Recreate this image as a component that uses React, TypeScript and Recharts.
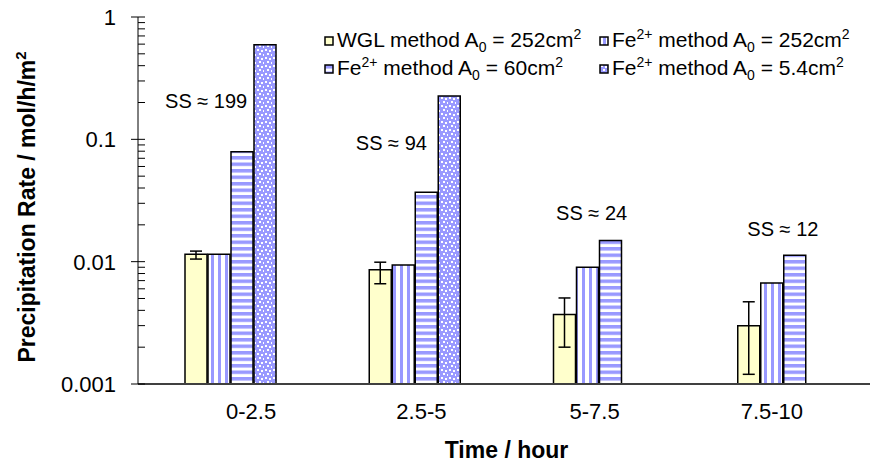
import React from "react";
import { BarChart, Bar, XAxis, YAxis, ErrorBar, ReferenceDot } from "recharts";

// time windows (hours)
const periods = ["0-2.5", "2.5-5", "5-7.5", "7.5-10"];

// precipitation rates, mol/h/m2
const wgl252 = [0.0115, 0.0086, 0.0037, 0.003];
const wglErrLow = [0.001, 0.002, 0.0017, 0.0018];
const wglErrHigh = [0.0007, 0.0013, 0.00135, 0.0017];
const fe252 = [0.0115, 0.0094, 0.009, 0.0067];
const fe60 = [0.079, 0.037, 0.0149, 0.0113];
const fe54 = [0.594, 0.226, null, null];

// supersaturation notes
const ssLabels = ["SS ≈ 199", "SS ≈ 94", "SS ≈ 24", "SS ≈ 12"];
const ssLevels = [0.206, 0.0933, 0.025, 0.0185];
const ssShift = [-24, -23, -7, 0];

const yTicks = [0.001, 0.01, 0.1, 1];
const yTickLabels = ["0.001", "0.01", "0.1", "1"];
const xLabelShift = [21, 7, -4, -11];

const FONT = "'Liberation Sans', Arial, sans-serif";
const BLUE = "#9999ff";

const minorTicks: number[] = [];
for (let d = 0; d < 3; d++) {
  for (let m = 2; m <= 9; m++) minorTicks.push(yTicks[d] * m);
}
const allTicks = [...yTicks, ...minorTicks];

const data = periods.map((p, i) => ({
  period: p,
  wgl: wgl252[i],
  wglErr: [wglErrLow[i], wglErrHigh[i]],
  fe252: fe252[i],
  fe60: fe60[i],
  fe54: fe54[i],
}));

const YTick = (props: any) => {
  const { x, y, payload } = props;
  const idx = yTicks.findIndex((t) => Math.abs(t - payload.value) < t * 1e-6);
  const major = idx >= 0;
  return (
    <g>
      <line x1={major ? x - 7 : x} x2={x + 7} y1={y} y2={y} stroke="#000" strokeWidth={1} />
      {major && (
        <text x={x - 22} y={y} dy={8} textAnchor="end" fontSize={22} fontFamily={FONT} fill="#000">
          {yTickLabels[idx]}
        </text>
      )}
    </g>
  );
};

const XTick = (props: any) => {
  const { x, y, payload, index } = props;
  return (
    <text x={x + (xLabelShift[index] || 0)} y={y + 35} textAnchor="middle" fontSize={22} fontFamily={FONT} fill="#000">
      {payload.value}
    </text>
  );
};

const LegendEntry = ({ x, y, fill, lead, area }: any) => (
  <g>
    <rect x={x - 12} y={y - 10} width={8} height={8} fill={fill} stroke="#000" strokeWidth={1.5} />
    <text x={x} y={y} fontSize={21} fontFamily={FONT} fill="#000">
      {lead === "WGL" ? (
        "WGL "
      ) : (
        <>
          Fe<tspan dy={-8} fontSize={14}>2+</tspan>
          <tspan dy={8}> </tspan>
        </>
      )}
      method A<tspan dy={5} fontSize={14}>0</tspan>
      <tspan dy={-5}> = {area}cm</tspan>
      <tspan dy={-8} fontSize={14}>2</tspan>
    </text>
  </g>
);

export default function App() {
  return (
    <div style={{ position: "absolute", left: 0, top: 0, width: 870, height: 468, overflow: "hidden", fontFamily: FONT }}>
      <BarChart
        width={870}
        height={468}
        data={data}
        margin={{ top: 17, right: -5, bottom: 0, left: 0 }}
        barSize={22}
        barGap={1}
      >
        <defs>
          <pattern id="vstripe" width="7" height="7" patternUnits="userSpaceOnUse">
            <rect width="7" height="7" fill="#fff" />
            <rect x="1" width="3" height="7" fill={BLUE} />
          </pattern>
          <pattern id="hstripe" width="6.5" height="6.5" patternUnits="userSpaceOnUse">
            <rect width="6.5" height="6.5" fill="#fff" />
            <rect width="6.5" height="3.5" fill={BLUE} />
          </pattern>
          <pattern id="dots" width="8" height="8" patternUnits="userSpaceOnUse">
            <rect width="8" height="8" fill={BLUE} />
            <rect x="1" y="1" width="2" height="2" fill="#fff" />
            <rect x="5" y="2" width="2" height="2" fill="#fff" />
            <rect x="3" y="5" width="2" height="2" fill="#fff" />
            <rect x="7" y="6" width="1.5" height="2" fill="#fff" />
          </pattern>
        </defs>
        <XAxis
          dataKey="period"
          height={84}
          tickLine={false}
          tickSize={0}
          tickMargin={0}
          tick={<XTick />}
          axisLine={{ stroke: "#404040", strokeWidth: 2 }}
          label={{
            content: (p: any) => (
              <text
                x={p.viewBox.x + p.viewBox.width / 2}
                y={p.viewBox.y + 74}
                textAnchor="middle"
                fontSize={23}
                fontWeight="bold"
                fontFamily={FONT}
                fill="#000"
              >
                Time / hour
              </text>
            ),
          }}
        />
        <YAxis
          scale="log"
          domain={[0.001, 1]}
          allowDataOverflow
          ticks={allTicks}
          interval={0}
          width={138}
          tickLine={false}
          tickSize={0}
          tickMargin={0}
          tick={<YTick />}
          axisLine={{ stroke: "#000", strokeWidth: 1 }}
          label={{
            content: () => (
              <text
                transform="translate(35,207) rotate(-90)"
                textAnchor="middle"
                fontSize={23}
                fontWeight="bold"
                fontFamily={FONT}
                fill="#000"
              >
                Precipitation Rate / mol/h/m<tspan dy={-9} fontSize={15}>2</tspan>
              </text>
            ),
          }}
        />
        <Bar dataKey="wgl" fill="#ffffcc" stroke="#000" strokeWidth={1.5} isAnimationActive={false}>
          <ErrorBar dataKey="wglErr" width={6} stroke="#000" strokeWidth={1.5} />
        </Bar>
        <Bar dataKey="fe252" fill="url(#vstripe)" stroke="#000" strokeWidth={1.5} isAnimationActive={false} />
        <Bar dataKey="fe60" fill="url(#hstripe)" stroke="#000" strokeWidth={1.5} isAnimationActive={false} />
        <Bar dataKey="fe54" fill="url(#dots)" stroke="#000" strokeWidth={1.5} isAnimationActive={false} />
        {periods.map((p, i) => (
          <ReferenceDot
            key={p}
            x={p}
            y={ssLevels[i]}
            r={0}
            fill="none"
            stroke="none"
            label={{
              content: (lp: any) => (
                <text
                  x={lp.viewBox.x + (lp.viewBox.width || 0) / 2 + ssShift[i]}
                  y={lp.viewBox.y + (lp.viewBox.height || 0) / 2 + 7}
                  textAnchor="middle"
                  fontSize={20}
                  fontFamily={FONT}
                  fill="#000"
                >
                  {ssLabels[i]}
                </text>
              ),
            }}
          />
        ))}
      </BarChart>
      <svg width={870} height={100} style={{ position: "absolute", left: 0, top: 0, pointerEvents: "none" }}>
        <LegendEntry x={337} y={47} fill="#ffffcc" lead="WGL" area="252" />
        <LegendEntry x={612} y={47} fill="url(#vstripe)" lead="Fe" area="252" />
        <LegendEntry x={337} y={75} fill="url(#hstripe)" lead="Fe" area="60" />
        <LegendEntry x={612} y={75} fill="url(#dots)" lead="Fe" area="5.4" />
      </svg>
    </div>
  );
}
